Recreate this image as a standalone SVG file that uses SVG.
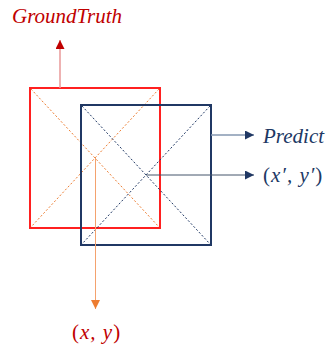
<svg xmlns="http://www.w3.org/2000/svg" width="326" height="347" viewBox="0 0 326 347">
<defs>
<marker id="arR" viewBox="0 0 10 10" refX="10" refY="5" markerWidth="9" markerHeight="9" markerUnits="userSpaceOnUse" orient="auto"><path d="M0,0 L10,5 L0,10 z" fill="#C00000"/></marker>
<marker id="arN" viewBox="0 0 10 10" refX="10" refY="5" markerWidth="9" markerHeight="9" markerUnits="userSpaceOnUse" orient="auto"><path d="M0,0 L10,5 L0,10 z" fill="#203864"/></marker>
<marker id="arO" viewBox="0 0 10 10" refX="10" refY="5" markerWidth="9" markerHeight="9" markerUnits="userSpaceOnUse" orient="auto"><path d="M0,0 L10,5 L0,10 z" fill="#ED7D31"/></marker>
</defs>
<style>
.t{font-family:"Liberation Serif",serif;font-style:italic;font-size:21px}
.diag{stroke-width:1;stroke-dasharray:2 2;fill:none}
</style>
<rect width="326" height="347" fill="#fff"/>
<g id="groundtruth">
<rect x="30" y="88" width="130" height="140" fill="none" stroke="#FF2020" stroke-width="2"/>
<line class="diag" x1="31" y1="89" x2="159" y2="227" stroke="#ED7D31"/>
<line class="diag" x1="159" y1="89" x2="31" y2="227" stroke="#ED7D31"/>
<text class="t" x="12" y="23" fill="#C00000">GroundTruth</text>
</g>
<g id="predict">
<rect x="81" y="105" width="130" height="140" fill="none" stroke="#203864" stroke-width="2"/>
<line class="diag" x1="82" y1="106" x2="210" y2="244" stroke="#203864"/>
<line class="diag" x1="210" y1="106" x2="82" y2="244" stroke="#203864"/>
<text class="t" x="263" y="143" fill="#203864">Predict</text>
</g>
<g id="pred-center-label">
<text class="t" x="263" y="182" fill="#203864" letter-spacing="1"><tspan font-style="normal">(</tspan>x′, y′<tspan font-style="normal">)</tspan></text>
</g>
<g id="gt-center-label">
<text class="t" x="72" y="339" fill="#C00000" letter-spacing="1"><tspan font-style="normal">(</tspan>x, y<tspan font-style="normal">)</tspan></text>
</g>
<g id="connectors" fill="none">
<line x1="60" y1="88" x2="60" y2="40" stroke="#E89898" stroke-width="1.5" marker-end="url(#arR)"/>
<line x1="211" y1="135" x2="254" y2="135" stroke="#8497B0" stroke-width="1.5" marker-end="url(#arN)"/>
<line x1="146" y1="175" x2="254" y2="175" stroke="#44546A" stroke-width="1" marker-end="url(#arN)"/>
<line x1="95.5" y1="158" x2="95.5" y2="309" stroke="#F4A26E" stroke-width="1" marker-end="url(#arO)"/>
</g>
</svg>
